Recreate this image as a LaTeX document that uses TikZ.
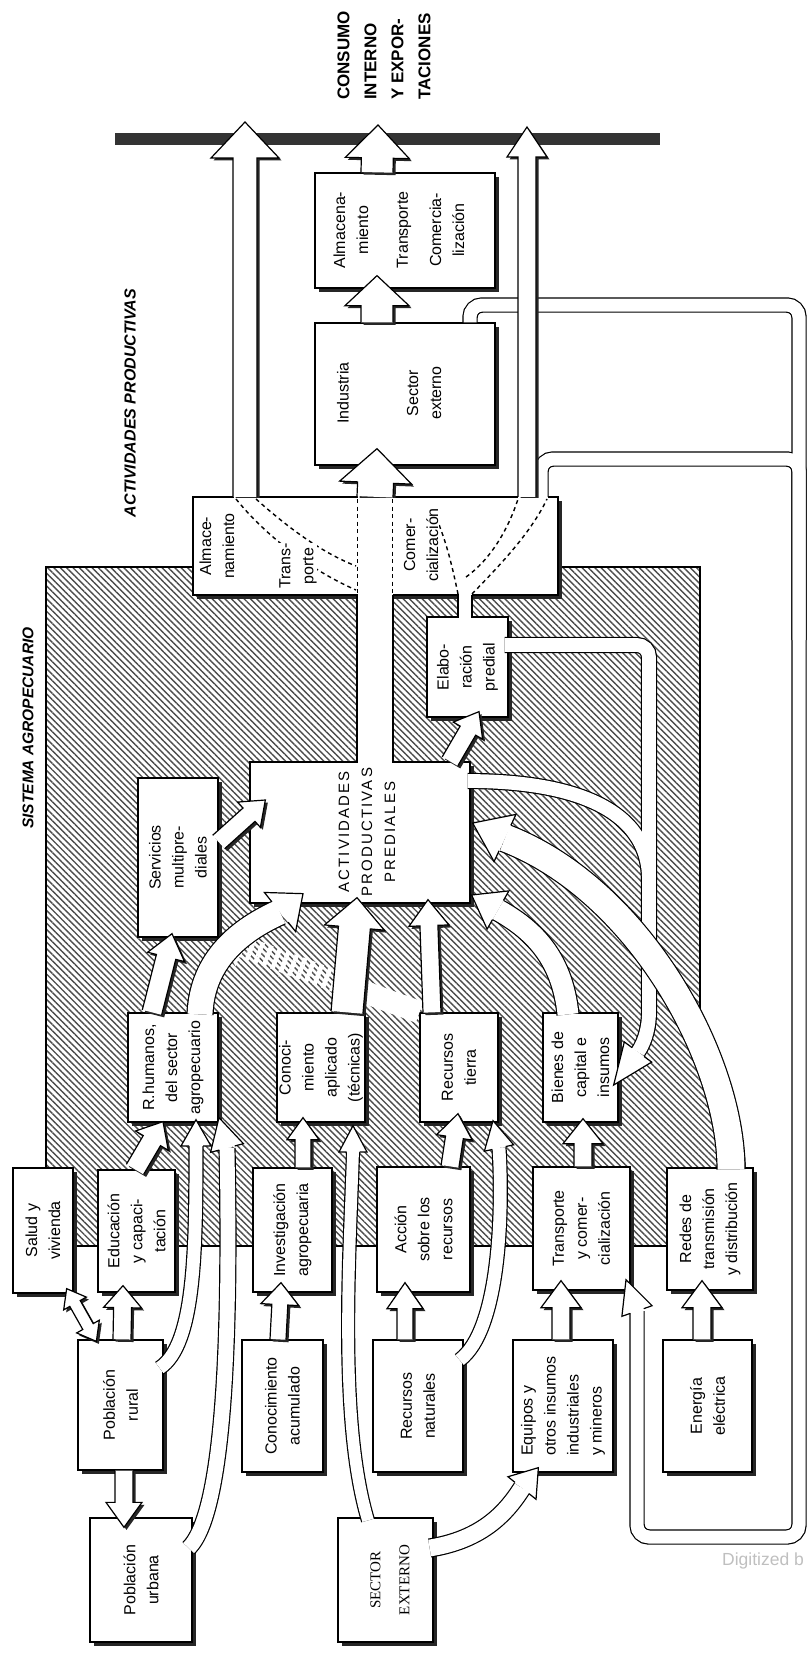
\documentclass[tikz,border=0pt]{standalone}
\usepackage{fontspec}
\setmainfont{Liberation Sans}
\newfontfamily\serifface{Liberation Serif}
\newfontfamily\spacedface[LetterSpace=14]{Liberation Sans}
\usetikzlibrary{calc,fit,shadows,patterns.meta}

\tikzset{
  box/.style={draw, line width=1.3pt, fill=white, inner sep=0pt,
    drop shadow={shadow xshift=4pt, shadow yshift=-4pt, fill=black!85, opacity=1}},
  txt/.style={rotate=90, align=center, inner sep=0.5pt,
    font=\fontsize{16}{23}\selectfont},
  arr/.style={draw, fill=white, line width=1.2pt, line join=miter,
    drop shadow={shadow xshift=2.5pt, shadow yshift=-2.5pt, fill=black!85, opacity=1}},
  headshape/.style={draw, fill=white, line width=1.2pt, line join=miter},
  band/.style={draw, line width=1.2pt, double=white, double distance=#1},
  hatch/.style={pattern={Lines[angle=-45, distance=4.5pt, line width=1.4pt]},
    pattern color=black!70},
  dashline/.style={line width=1.4pt, dash pattern=on 4pt off 3.5pt},
}

% block arrows: start, tip, half shaft, half head, head length
\newcommand\arrowsetup[3]{%
  \coordinate (ba-s) at #1; \coordinate (ba-t) at #2;
  \coordinate (ba-h) at ($(ba-t)!#3!(ba-s)$);}
\newcommand\arrowoutline[2]{($(ba-s)!#1!90:(ba-t)$) -- ($(ba-h)!#1!90:(ba-t)$)
  -- ($(ba-h)!#2!90:(ba-t)$) -- (ba-t) -- ($(ba-h)!#2!-90:(ba-t)$)
  -- ($(ba-h)!#1!-90:(ba-t)$) -- ($(ba-s)!#1!-90:(ba-t)$)}
\newcommand\blockarrow[5]{\arrowsetup{#1}{#2}{#5}\filldraw[arr] \arrowoutline{#3}{#4};}
\newcommand\headat[4]{%
  \coordinate (hd-b) at #1; \coordinate (hd-t) at #2;
  \filldraw[headshape] ($(hd-b)!#3!90:(hd-t)$) -- ($(hd-b)!#4!90:(hd-t)$) -- (hd-t)
    -- ($(hd-b)!#4!-90:(hd-t)$) -- ($(hd-b)!#3!-90:(hd-t)$);}
% bent arrows: start, c1, c2, head base, tip, half shaft, half head
\newcommand\bendarrow[7]{%
  \pgfmathsetlengthmacro\bendw{2*#6-1.2pt}%
  \draw[band=\bendw] #1 .. controls #2 and #3 .. #4;
  \headat{#4}{#5}{#6}{#7}}

\begin{document}
\begin{tikzpicture}[x=1pt, y=-1pt]
\useasboundingbox (0,0) rectangle (807,1653);

% sistema agropecuario
\draw[hatch, line width=1.6pt] (46,567) -- (700,567) -- (700,1033)
  .. controls (722,1075) and (744,1120) .. (745,1169) -- (745,1246) -- (46,1246) -- cycle;

% consumo interno
\fill[black!80] (115,133) rectangle (660,145);
\node[rotate=90, anchor=west, align=left, inner sep=0pt,
  font=\bfseries\fontsize{17}{27}\selectfont] (consumo) at (384,100)
  {CONSUMO\\INTERNO\\Y EXPOR-\\TACIONES};
\node[rotate=90, font=\bfseries\itshape\fontsize{16}{18}\selectfont] (tact) at (130,403) {ACTIVIDADES PRODUCTIVAS};
\node[rotate=90, font=\bfseries\itshape\fontsize{15.5}{18}\selectfont] (tsis) at (28,728) {SISTEMA AGROPECUARIO};

% actividades productivas
\node[box, fit={(315,173) (495,288)}] (alm) {};
\node[box, fit={(315,323) (495,465)}] (ind) {};
\node[txt] (almt) at (351,230) {Almacena-\\miento};
\node[txt] (trat) at (404,230) {Transporte};
\node[txt] (comt) at (447,230) {Comercia-\\lización};
\node[txt] (indt) at (343,393) {Industria};
\node[txt] (sect) at (424,393) {Sector\\externo};

% outer loops
\draw[line width=15.4pt, rounded corners=12pt] (470,0 |- ind.north) -- (470,305) -- (799,305) -- (799,1537) -- (637,1537) -- (637,1311);
\draw[line width=15.4pt, rounded corners=12pt] (541,499) -- (541,459) -- (799,459) -- (799,640);
\draw[white, line width=13pt, rounded corners=12pt] (470,0 |- ind.north) -- (470,305) -- (799,305) -- (799,1537) -- (637,1537) -- (637,1311);
\draw[white, line width=13pt, rounded corners=12pt] (541,499) -- (541,459) -- (799,459) -- (799,640);

% almacenamiento / transporte / comercializacion
\node[fit={(193,497) (558,595)}, inner sep=0pt, fill=white,
  drop shadow={shadow xshift=4pt, shadow yshift=-4pt, fill=black!85, opacity=1}] (bar) {};
\draw[line width=1.3pt] (233.5,497) -- (193,497) -- (193,595) -- (357.5,595)
  (392.5,595) -- (458.5,595) (471.5,595) -- (558,595) -- (558,497) -- (548,497)
  (256.5,497) -- (357.5,497) (392.5,497) -- (518,497);

\begin{scope}
  \clip (0,0) rectangle (807,497.6);
  \blockarrow{(245,0 |- bar.north)}{(245,122)}{12pt}{34pt}{36pt}
  \blockarrow{(375,0 |- bar.north)}{($(377,0 |- ind.south)+(0,-17)$)}{18pt}{36pt}{34pt}
  \blockarrow{(527,0 |- bar.north)}{(527,127)}{9pt}{20pt}{30pt}
\end{scope}
\blockarrow{(377,0 |- ind.north)}{($(377,0 |- alm.south)+(0,-13)$)}{16pt}{32pt}{30pt}
\blockarrow{(377,0 |- alm.north)}{(378,125)}{16pt}{32pt}{33pt}

\draw[dashline] (357.5,499) -- (357.5,594) (392.5,499) -- (392.5,594);
\draw[dashline] (236,499) .. controls (265,535) and (310,570) .. (356,590);
\draw[dashline] (256,499) .. controls (285,525) and (320,552) .. (356,566);
\draw[dashline] (458,594) .. controls (452,565) and (447,545) .. (438,522);
\draw[dashline] (466,577) .. controls (490,560) and (508,530) .. (518,499);
\draw[dashline] (472,594) .. controls (495,570) and (530,535) .. (547,499);
\node[txt, fill=white] (bart1) at (217,546) {Almace-\\namiento};
\node[txt, fill=white] (bart2) at (298,566) {Trans-\\porte};
\node[txt, fill=white] (bart3) at (421,545) {Comer-\\cialización};

% boxes of the farm system
\node[box, fit={(138,778) (218,937)}] (serv) {};
\node[box, fit={(250,762) (470,903)}] (apr) {};
\node[box, fit={(427,617) (508,717)}] (elab) {};
\node[box, fit={(128,1013) (218,1122)}] (rh) {};
\node[box, fit={(277,1013) (365,1122)}] (cap) {};
\node[box, fit={(420,1013) (498,1122)}] (rt) {};
\node[box, fit={(543,1013) (618,1122)}] (bci) {};
\node[box, fit={(13,1168) (73,1293)}] (sv) {};
\node[box, fit={(98,1170) (175,1292)}] (edu) {};
\node[box, fit={(253,1168) (332,1292)}] (inv) {};
\node[box, fit={(377,1167) (470,1292)}] (acc) {};
\node[box, fit={(533,1167) (630,1290)}] (tyc) {};
\node[box, fit={(667,1168) (753,1290)}] (red) {};
\node[box, fit={(78,1340) (163,1470)}] (pr) {};
\node[box, fit={(90,1518) (192,1642)}] (pu) {};
\node[box, fit={(242,1340) (323,1472)}] (cac) {};
\node[box, fit={(373,1340) (463,1472)}] (rn) {};
\node[box, fit={(338,1518) (433,1642)}] (se) {};
\node[box, fit={(513,1340) (613,1472)}] (eq) {};
\node[box, fit={(663,1340) (752,1472)}] (en) {};

\node[txt] (servt) at (serv) {Servicios\\multipre-\\diales};
\node[txt, font=\spacedface\fontsize{15}{23}\selectfont] (aprt) at (367,832) {ACTIVIDADES\\PRODUCTIVAS\\PREDIALES};
\node[txt] (elabt) at (elab) {Elabo-\\ración\\predial};
\node[txt] (rht) at (rh) {R.humanos,\\del sector\\agropecuario};
\node[txt] (capt) at (cap) {Conoci-\\miento\\aplicado\\(técnicas)};
\node[txt] (rtt) at (rt) {Recursos\\tierra};
\node[txt] (bcit) at (bci) {Bienes de\\capital e\\insumos};
\node[txt] (svt) at (sv) {Salud y\\vivienda};
\node[txt] (edut) at (edu) {Educación\\y capaci-\\tación};
\node[txt] (invt) at (inv) {Investigación\\agropecuaria};
\node[txt] (acct) at (acc) {Acción\\sobre los\\recursos};
\node[txt] (tyct) at (tyc) {Transporte\\y comer-\\cialización};
\node[txt] (redt) at (red) {Redes de\\transmisión\\y distribución};
\node[txt] (prt) at (pr) {Población\\rural};
\node[txt] (put) at (pu) {Población\\urbana};
\node[txt] (cact) at (cac) {Conocimiento\\acumulado};
\node[txt] (rnt) at (rn) {Recursos\\naturales};
\node[txt, font=\serifface\fontsize{15}{29}\selectfont] (set) at (390,1580) {SECTOR\\EXTERNO};
\node[txt, align=left] (eqt) at (eq) {Equipos y\\otros insumos\\industriales\\y mineros};
\node[txt] (ent) at (en) {Energía\\eléctrica};

% recursos tierra -> servicios (interrupted)
\arrowsetup{(rt.north west)}{(serv.south east)}{26pt}
\fill[pattern={Lines[angle=69, distance=9pt, line width=4.5pt]}, pattern color=white]
  \arrowoutline{11pt}{21pt} -- cycle;
\coordinate (gm) at ($(ba-s)!70pt!(ba-t)$);
\fill[white] ($(ba-s)!11pt!90:(ba-t)$) -- ($(gm)!11pt!90:(ba-t)$) -- ($(gm)!11pt!-90:(ba-t)$) -- ($(ba-s)!11pt!-90:(ba-t)$) -- cycle;

% open channels
\draw[band=34.8pt] (375,0 |- bar.south) -- ($(375,0 |- apr.north)+(0,2)$);
\draw[band=12.8pt] (465,0 |- bar.south) -- ($(465,0 |- elab.north)+(0,2)$);
\draw[line width=16.2pt, rounded corners=12pt] ($(elab.east |- 0,645)+(-4,0)$) -- (649,645) -- (649,1000) .. controls (649,1025) and (646,1040) .. (638,1052);
\draw[line width=16.2pt] ($(apr.east |- 0,781)+(-3,0)$) .. controls (565,781) and (649,805) .. (649,880);
\draw[white, line width=13.8pt, rounded corners=12pt] ($(elab.east |- 0,645)+(-4,0)$) -- (649,645) -- (649,1000) .. controls (649,1025) and (646,1040) .. (638,1052);
\draw[white, line width=13.8pt] ($(apr.east |- 0,781)+(-3,0)$) .. controls (565,781) and (649,805) .. (649,880);
\headat{(638,1052)}{($(bci.east |- 0,1085)+(-5,0)$)}{7.5pt}{17pt}

% straight arrows
\blockarrow{(124,0 |- pr.south)}{($(124,0 |- pu.north)+(0,10)$)}{9pt}{18pt}{25pt}
\blockarrow{(122,0 |- pr.north)}{($(123,0 |- edu.south)+(0,-7)$)}{9pt}{19pt}{22pt}
\blockarrow{(135,0 |- edu.north)}{($(163,0 |- rh.south)+(0,-1)$)}{10pt}{19pt}{22pt}
\blockarrow{(152,0 |- rh.north)}{($(172,0 |- serv.south)+(0,-4)$)}{10pt}{19pt}{24pt}
\blockarrow{(serv.east |- 0,842)}{($(apr.west |- 0,800)+(16,0)$)}{9pt}{17pt}{22pt}
\blockarrow{(347,0 |- cap.north)}{($(357,0 |- apr.south)+(0,-6)$)}{16pt}{30pt}{30pt}
\blockarrow{(432,0 |- rt.north)}{($(428,0 |- apr.south)+(0,-4)$)}{9pt}{20pt}{26pt}
\blockarrow{(278,0 |- cac.north)}{($(281,0 |- inv.south)+(0,-10)$)}{8pt}{19pt}{22pt}
\blockarrow{(303,0 |- inv.north)}{($(303,0 |- cap.south)+(0,-5)$)}{8pt}{16pt}{22pt}
\blockarrow{(450,0 |- acc.north)}{($(458,0 |- rt.south)+(0,-9)$)}{9pt}{18pt}{24pt}
\blockarrow{(405,0 |- rn.north)}{($(405,0 |- acc.south)+(0,-10)$)}{8pt}{18pt}{26pt}
\blockarrow{(561,0 |- eq.north)}{($(561,0 |- tyc.south)+(0,-10)$)}{9pt}{20pt}{27pt}
\blockarrow{(583,0 |- tyc.north)}{($(583,0 |- bci.south)+(0,-4)$)}{9pt}{20pt}{25pt}
\blockarrow{(702,0 |- en.north)}{($(702,0 |- red.south)+(0,-10)$)}{9pt}{20pt}{27pt}
\blockarrow{(450,0 |- apr.north)}{($(479,0 |- elab.south)+(0,-6)$)}{9pt}{17pt}{22pt}

% salud y vivienda <-> poblacion rural
\coordinate (dA) at ($(sv.south east)+(-7,-5)$);
\coordinate (dB) at ($(pr.north west)+(19,2)$);
\coordinate (dhA) at ($(dA)!17pt!(dB)$);
\coordinate (dhB) at ($(dB)!17pt!(dA)$);
\filldraw[arr] (dA) -- ($(dhA)!13pt!90:(dB)$) -- ($(dhA)!6pt!90:(dB)$) -- ($(dhB)!6pt!90:(dB)$)
  -- ($(dhB)!13pt!90:(dB)$) -- (dB) -- ($(dhB)!13pt!-90:(dB)$) -- ($(dhB)!6pt!-90:(dB)$)
  -- ($(dhA)!6pt!-90:(dB)$) -- ($(dhA)!13pt!-90:(dB)$) -- cycle;

% bent arrows
\bendarrow{($(pr.east |- 0,1368)+(-4,0)$)}{(195,1345)}{(196,1250)}{(196,1146)}{($(196,0 |- rh.south)+(0,-3)$)}{7pt}{15pt}
\bendarrow{($(pu.east |- 0,1548)+(-4,0)$)}{(228,1510)}{(230,1300)}{(227,1148)}{($(219,0 |- rh.south)+(0,-5)$)}{8pt}{17pt}
\bendarrow{($(368,0 |- se.north)+(0,3)$)}{(338,1420)}{(350,1250)}{(353,1152)}{($(353,0 |- cap.south)+(0,3)$)}{6.5pt}{14pt}
\bendarrow{($(rn.east |- 0,1360)+(-4,0)$)}{(500,1330)}{(503,1210)}{(499,1148)}{($(493,0 |- rt.south)+(0,-2)$)}{7pt}{15pt}
\bendarrow{($(se.east |- 0,1548)+(-4,0)$)}{(480,1540)}{(505,1515)}{(522,1488)}{($(eq.south west)+(26,-5)$)}{9pt}{18pt}
\bendarrow{($(200,0 |- rh.north)+(0,2)$)}{(202,960)}{(240,930)}{(280,912)}{($(303,0 |- apr.south)+(0,-10)$)}{13pt}{25pt}
\bendarrow{($(568,0 |- bci.north)+(0,2)$)}{(562,955)}{(530,928)}{(498,910)}{($(apr.east |- 0,895)+(1,0)$)}{11pt}{22pt}
\bendarrow{($(731,0 |- red.north)+(0,2)$)}{(731,1060)}{(640,890)}{(505,838)}{($(apr.east |- 0,823)+(2,0)$)}{14pt}{26pt}
\headat{(637,1311)}{($(626,0 |- tyc.south)+(0,-11)$)}{7.1pt}{16pt}

\node[anchor=base west, inner sep=0pt, text=black!25, font=\fontsize{17.5}{18}\selectfont] (wm) at (722,1565) {Digitized b};
\end{tikzpicture}
\end{document}
